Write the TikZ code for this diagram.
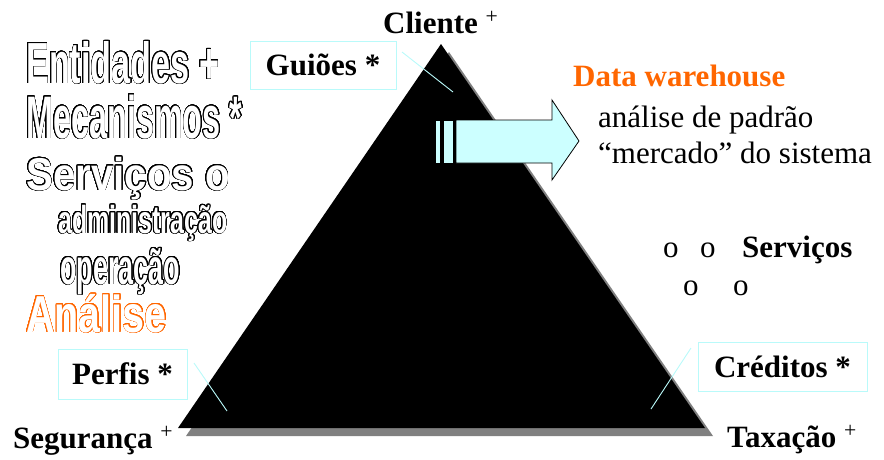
\documentclass[tikz,border=0pt]{standalone}
\usepackage{fontspec}
\setmainfont{Liberation Serif}
\newfontfamily\outA{Liberation Sans}[FakeStretch=0.59]
\newfontfamily\outB{Liberation Sans}[FakeStretch=0.54]
\newfontfamily\outC{Liberation Sans}[FakeStretch=0.875]
\newfontfamily\outD{Liberation Sans}[FakeStretch=0.64]
\newfontfamily\outE{Liberation Sans}[FakeStretch=0.54]
\newfontfamily\outF{Liberation Sans}[FakeStretch=0.76]
\usepackage{contour}
\contournumber{32}
\contourlength{0.75pt}
\definecolor{lcyan}{RGB}{204,255,255}
\definecolor{bcyan}{RGB}{185,250,250}
\definecolor{dorange}{RGB}{255,102,0}
\definecolor{shadowgray}{RGB}{128,128,128}
\begin{document}
\begin{tikzpicture}[x=1pt,y=-1pt,
  lbl/.style={anchor=base west, inner sep=0pt, font=\fontsize{31}{36}\selectfont\bfseries},
  plain/.style={anchor=base west, inner sep=0pt, font=\fontsize{31}{36}\selectfont},
  outl/.style={anchor=base west, inner sep=0pt},
  callbox/.style={draw=bcyan, line width=0.9pt, inner sep=0pt, font=\fontsize{31}{36}\selectfont\bfseries},
  callline/.style={draw=bcyan, line width=0.9pt},
  arrowpart/.style={draw=black, fill=lcyan, line width=0.8pt, line join=miter}]
\useasboundingbox (0,0) rectangle (884,459);
% pyramid
\fill[shadowgray] (186,436) -- (449,52) -- (713,436) -- cycle;
\fill[black] (178,428) -- (441,44) -- (705,428) -- cycle;
% striped arrow
\draw[arrowpart] (435,120) rectangle (440,163);
\draw[arrowpart] (443,120) rectangle (453,163);
\draw[arrowpart] (456,120) -- (552,120) -- (552,100) -- (579,141) -- (552,180) -- (552,163) -- (456,163) -- cycle;
% callouts
\node[callbox, minimum width=146pt, minimum height=48pt] (gbox) at (323,65) {Guiões *};
\node[callbox, minimum width=129pt, minimum height=50pt] (pbox) at (122.5,374) {Perfis *};
\node[callbox, minimum width=169pt, minimum height=49pt] (cbox) at (782.5,366.5) {Créditos *};
\coordinate (g1) at (402,52); \coordinate (g2) at (453,92);
\coordinate (p1) at (194,363); \coordinate (p2) at (227,411);
\coordinate (c1) at (691,348); \coordinate (c2) at (651,409);
\draw[callline] (g1) -- (g2);
\draw[callline] (p1) -- (p2);
\draw[callline] (c1) -- (c2);
% corner labels
\node[lbl] (cli) at (383,33) {Cliente \textsuperscript{\mdseries +}};
\node[lbl] (seg) at (13,448) {Segurança \textsuperscript{\mdseries +}};
\node[lbl] (tax) at (727,447) {Taxação \textsuperscript{\mdseries +}};
% data warehouse
\node[lbl, text=dorange] (dw) at (573,86) {Data warehouse};
\node[plain] (dw1) at (598,127) {análise de padrão};
\node[plain] (dw2) at (598,163) {“mercado” do sistema};
% services
\node[plain] (o1) at (663,257) {o};
\node[plain] (o2) at (700,257) {o};
\node[lbl] (serv) at (742,257) {Serviços};
\node[plain] (o3) at (683,295) {o};
\node[plain] (o4) at (733,295) {o};
% outlined text
\node[outl] (ent) at (26,83) {\outA\bfseries\fontsize{58}{58}\selectfont\color{white}\contour{black}{Entidades +}};
\node[outl] (mec) at (26,138) {\outB\bfseries\fontsize{60}{60}\selectfont\color{white}\contour{black}{Mecanismos *}};
\node[outl] (ser) at (26,190) {\outC\bfseries\fontsize{46}{46}\selectfont\color{white}\contour{black}{Serviços o}};
\node[outl] (adm) at (58,233) {\outD\bfseries\fontsize{39}{39}\selectfont\color{white}\contour{black}{administração}};
\node[outl] (ope) at (60,284) {\outE\bfseries\fontsize{50}{50}\selectfont\color{white}\contour{black}{operação}};
\node[outl] (ana) at (26,332) {\outF\bfseries\fontsize{52}{52}\selectfont\color{white}\contour{dorange}{Análise}};
\end{tikzpicture}
\end{document}
